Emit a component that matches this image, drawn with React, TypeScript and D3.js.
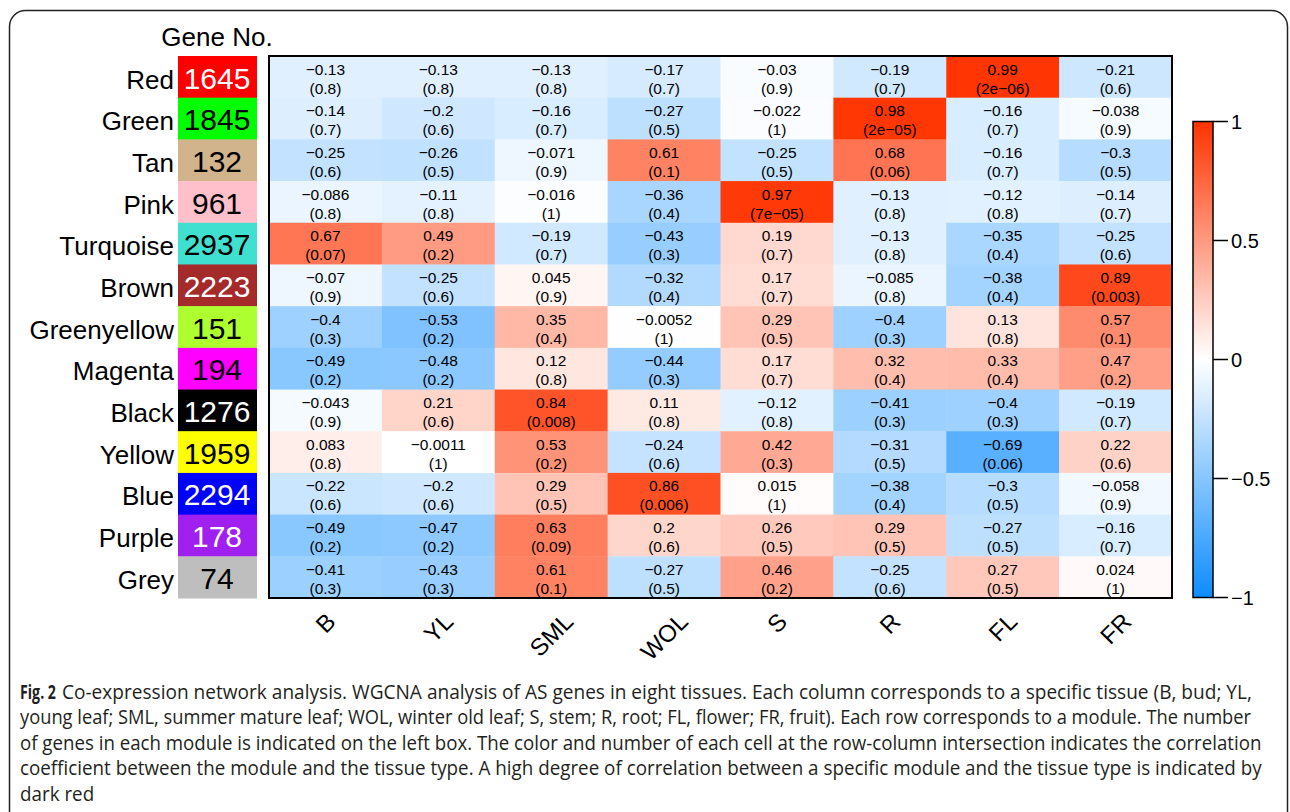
import React, { useEffect, useRef } from "react";
import * as d3 from "d3";

// modules (rows) and their gene counts
const modules = ["Red", "Green", "Tan", "Pink", "Turquoise", "Brown", "Greenyellow", "Magenta", "Black", "Yellow", "Blue", "Purple", "Grey"];
const geneCounts = [1645, 1845, 132, 961, 2937, 2223, 151, 194, 1276, 1959, 2294, 178, 74];
const moduleColors = ["#FF0000", "#00FF00", "#D2B48C", "#FFC0CB", "#40E0D0", "#A52A2A", "#ADFF2F", "#FF00FF", "#000000", "#FFFF00", "#0000FF", "#A020F0", "#BEBEBE"];
const countTextColors = ["#fff", "#000", "#000", "#000", "#000", "#fff", "#000", "#000", "#fff", "#000", "#fff", "#fff", "#000"];

// tissues (columns)
const tissues = ["B", "YL", "SML", "WOL", "S", "R", "FL", "FR"];

// correlation per module x tissue
const corr = [
  [-0.13, -0.13, -0.13, -0.17, -0.03, -0.19, 0.99, -0.21],
  [-0.14, -0.2, -0.16, -0.27, -0.022, 0.98, -0.16, -0.038],
  [-0.25, -0.26, -0.071, 0.61, -0.25, 0.68, -0.16, -0.3],
  [-0.086, -0.11, -0.016, -0.36, 0.97, -0.13, -0.12, -0.14],
  [0.67, 0.49, -0.19, -0.43, 0.19, -0.13, -0.35, -0.25],
  [-0.07, -0.25, 0.045, -0.32, 0.17, -0.085, -0.38, 0.89],
  [-0.4, -0.53, 0.35, -0.0052, 0.29, -0.4, 0.13, 0.57],
  [-0.49, -0.48, 0.12, -0.44, 0.17, 0.32, 0.33, 0.47],
  [-0.043, 0.21, 0.84, 0.11, -0.12, -0.41, -0.4, -0.19],
  [0.083, -0.0011, 0.53, -0.24, 0.42, -0.31, -0.69, 0.22],
  [-0.22, -0.2, 0.29, 0.86, 0.015, -0.38, -0.3, -0.058],
  [-0.49, -0.47, 0.63, 0.2, 0.26, 0.29, -0.27, -0.16],
  [-0.41, -0.43, 0.61, -0.27, 0.46, -0.25, 0.27, 0.024],
];

// p-values, kept as printed
const pvals = [
  ["0.8", "0.8", "0.8", "0.7", "0.9", "0.7", "2e-06", "0.6"],
  ["0.7", "0.6", "0.7", "0.5", "1", "2e-05", "0.7", "0.9"],
  ["0.6", "0.5", "0.9", "0.1", "0.5", "0.06", "0.7", "0.5"],
  ["0.8", "0.8", "1", "0.4", "7e-05", "0.8", "0.8", "0.7"],
  ["0.07", "0.2", "0.7", "0.3", "0.7", "0.8", "0.4", "0.6"],
  ["0.9", "0.6", "0.9", "0.4", "0.7", "0.8", "0.4", "0.003"],
  ["0.3", "0.2", "0.4", "1", "0.5", "0.3", "0.8", "0.1"],
  ["0.2", "0.2", "0.8", "0.3", "0.7", "0.4", "0.4", "0.2"],
  ["0.9", "0.6", "0.008", "0.8", "0.8", "0.3", "0.3", "0.7"],
  ["0.8", "1", "0.2", "0.6", "0.3", "0.5", "0.06", "0.6"],
  ["0.6", "0.6", "0.5", "0.006", "1", "0.4", "0.5", "0.9"],
  ["0.2", "0.2", "0.09", "0.6", "0.5", "0.5", "0.5", "0.7"],
  ["0.3", "0.3", "0.1", "0.5", "0.2", "0.6", "0.5", "1"],
];

const legendTicks = [1, 0.5, 0, -0.5, -1];

const captionLines = [
  "Co-expression network analysis. WGCNA analysis of AS genes in eight tissues. Each column corresponds to a specific tissue (B, bud; YL,",
  "young leaf; SML, summer mature leaf; WOL, winter old leaf; S, stem; R, root; FL, flower; FR, fruit). Each row corresponds to a module. The number",
  "of genes in each module is indicated on the left box. The color and number of each cell at the row-column intersection indicates the correlation",
  "coefficient between the module and the tissue type. A high degree of correlation between a specific module and the tissue type is indicated by",
  "dark red",
];

const FONT = "'Liberation Sans', Arial, sans-serif";
const minus = (s: string) => s.replace(/-/g, "\u2212");

export default function App() {
  const ref = useRef<SVGSVGElement>(null);

  useEffect(() => {
    const svg = d3.select(ref.current);
    svg.selectAll("*").remove();

    const x = d3.scaleBand().domain(tissues).range([269, 1172]);
    const y = d3.scaleBand().domain(modules).range([56, 598]);
    const color = d3.scaleLinear<string>().domain([-1, 0, 1])
      .range(["rgb(13,140,255)", "#ffffff", "rgb(255,51,0)"]);

    // outer frame
    svg.append("rect")
      .attr("x", 9.5).attr("y", 10.5)
      .attr("width", 1278).attr("height", 830)
      .attr("rx", 16)
      .attr("fill", "none").attr("stroke", "#222").attr("stroke-width", 1.5);

    // gene counts column
    svg.append("text")
      .attr("x", 217).attr("y", 46)
      .attr("text-anchor", "middle")
      .style("font-family", FONT).style("font-size", "26px")
      .text("Gene No.");

    const rows = svg.append("g");
    modules.forEach((m, i) => {
      const y0 = y(m)!;
      rows.append("rect")
        .attr("x", 178).attr("y", y0)
        .attr("width", 79).attr("height", y.bandwidth() + 0.5)
        .attr("fill", moduleColors[i]);
      rows.append("text")
        .attr("x", 217).attr("y", y0 + 32.5)
        .attr("text-anchor", "middle")
        .attr("fill", countTextColors[i])
        .style("font-family", FONT).style("font-size", "30px")
        .text(geneCounts[i]);
      rows.append("text")
        .attr("x", 174).attr("y", y0 + 32.5)
        .attr("text-anchor", "end")
        .style("font-family", FONT).style("font-size", "26px")
        .text(m);
    });

    // heatmap cells
    const cells = svg.append("g");
    modules.forEach((m, i) => {
      tissues.forEach((t, j) => {
        const x0 = x(t)!, y0 = y(m)!;
        cells.append("rect")
          .attr("x", x0).attr("y", y0)
          .attr("width", x.bandwidth() + 0.5).attr("height", y.bandwidth() + 0.5)
          .attr("fill", color(corr[i][j]));
        cells.append("text")
          .attr("x", x0 + x.bandwidth() / 2).attr("y", y0 + 18.5)
          .attr("text-anchor", "middle")
          .style("font-family", FONT).style("font-size", "15.5px")
          .text(minus(String(corr[i][j])));
        cells.append("text")
          .attr("x", x0 + x.bandwidth() / 2).attr("y", y0 + 37.5)
          .attr("text-anchor", "middle")
          .style("font-family", FONT).style("font-size", "15.5px")
          .text("(" + minus(pvals[i][j]) + ")");
      });
    });

    svg.append("rect")
      .attr("x", 269).attr("y", 56)
      .attr("width", 903).attr("height", 542)
      .attr("fill", "none").attr("stroke", "#000").attr("stroke-width", 2);

    // rotated tissue labels, centred under each column
    const cap = 0.716 * 24;
    tissues.forEach(t => {
      const cx = x(t)! + x.bandwidth() / 2;
      const lab = svg.append("text")
        .attr("text-anchor", "end")
        .style("font-family", FONT).style("font-size", "24px")
        .text(t);
      const L = (lab.node() as SVGTextElement).getComputedTextLength();
      const ax = cx + 0.707 * (L + cap) / 2;
      const ay = 611 + 0.707 * cap;
      lab.attr("transform", `translate(${ax},${ay}) rotate(-45)`);
    });

    // colour legend
    const ly = d3.scaleLinear().domain([-1, 1]).range([597.5, 121.5]);
    const defs = svg.append("defs");
    const grad = defs.append("linearGradient")
      .attr("id", "corrGrad").attr("x1", 0).attr("y1", 1).attr("x2", 0).attr("y2", 0);
    d3.range(-1, 1.001, 0.1).forEach(v => {
      grad.append("stop")
        .attr("offset", `${((v + 1) / 2) * 100}%`)
        .attr("stop-color", color(v));
    });
    svg.append("rect")
      .attr("x", 1193).attr("y", ly(1))
      .attr("width", 20).attr("height", ly(-1) - ly(1))
      .attr("fill", "url(#corrGrad)")
      .attr("stroke", "#000").attr("stroke-width", 1.5);
    const lg = svg.append("g");
    legendTicks.forEach(v => {
      lg.append("line")
        .attr("x1", 1213).attr("x2", 1228)
        .attr("y1", ly(v)).attr("y2", ly(v))
        .attr("stroke", "#000").attr("stroke-width", 1.5);
      lg.append("text")
        .attr("x", 1231).attr("y", ly(v) + 7)
        .style("font-family", FONT).style("font-size", "20px")
        .text(minus(String(v)));
    });

    // caption, squeezed horizontally to look condensed
    const capG = svg.append("g").attr("fill", "#231f20")
      .style("font-family", "'Open Sans', sans-serif").style("font-size", "20px");
    const baselines = [699, 724, 749.5, 775, 800.5];
    const starts = [62, 20, 20, 20, 20];
    const ends = [1253, 1252, 1262, 1262, null];

    const fig = capG.append("text").style("font-weight", "bold").text("Fig. 2");
    const figW = (fig.node() as SVGTextElement).getComputedTextLength();
    fig.attr("transform", `translate(20,${baselines[0]}) scale(${36 / figW},1)`);

    let ratio = 1;
    captionLines.forEach((line, i) => {
      const txt = capG.append("text").text(line);
      const natural = (txt.node() as SVGTextElement).getComputedTextLength();
      if (ends[i] != null) ratio = ((ends[i] as number) - starts[i]) / natural;
      txt.attr("transform", `translate(${starts[i]},${baselines[i]}) scale(${ratio},1)`);
    });
  }, []);

  return (
    <div style={{ position: "fixed", left: 0, top: 0, background: "#fff" }}>
      <svg ref={ref} width={1290} height={812} style={{ display: "block" }} />
    </div>
  );
}
